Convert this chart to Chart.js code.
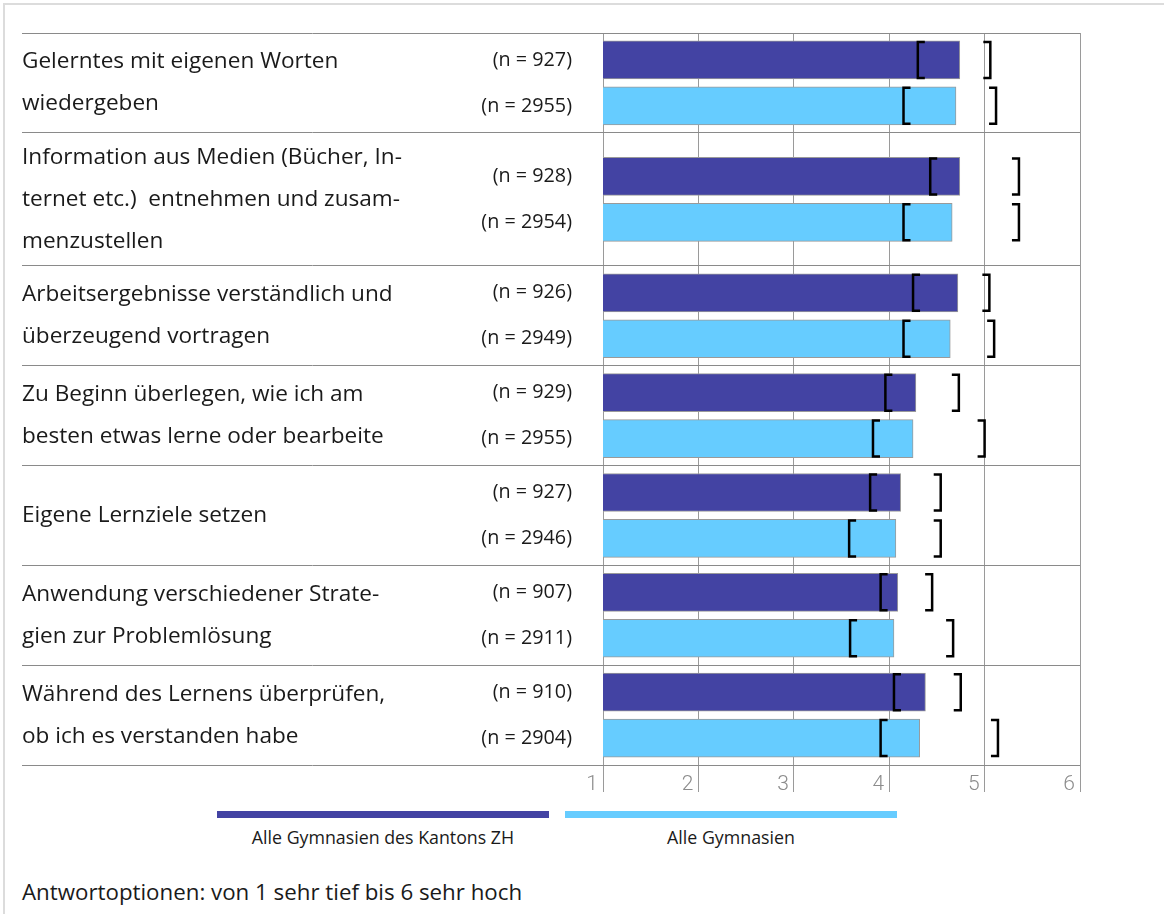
<!DOCTYPE html>
<html>
<head>
<meta charset="utf-8">
<script src="https://cdn.jsdelivr.net/npm/chart.js@4"></script>
<style>
  html, body { margin: 0; padding: 0; background: #fff; overflow: hidden; }
  body { width: 1164px; height: 914px; position: relative; font-family: "Open Sans", sans-serif; color: #1a1a1a; }
  .frame { position: absolute; left: 3px; top: 3px; width: 1300px; height: 1100px;
           border-top: 2px solid #dcdcdc; border-left: 2px solid #dcdcdc; }
  #chart { position: absolute; left: 0; top: 0; }
  .legend-line { position: absolute; top: 811px; height: 7px; width: 332px; }
  .legend-text { position: absolute; top: 825px; width: 332px; text-align: center; font-size: 17.8px; }
  .footer { position: absolute; left: 22px; top: 876px; font-size: 22.3px; }
</style>
</head>
<body>
<div class="frame"></div>
<canvas id="chart" width="1164" height="800"></canvas>
<div id="legend"></div>
<div class="footer">Antwortoptionen: von 1 sehr tief bis 6 sehr hoch</div>

<script>
const categories = [
  ["Gelerntes mit eigenen Worten", "wiedergeben"],
  ["Information aus Medien (Bücher, In-", "ternet etc.)  entnehmen und zusam-", "menzustellen"],
  ["Arbeitsergebnisse verständlich und", "überzeugend vortragen"],
  ["Zu Beginn überlegen, wie ich am", "besten etwas lerne oder bearbeite"],
  ["Eigene Lernziele setzen"],
  ["Anwendung verschiedener Strate-", "gien zur Problemlösung"],
  ["Während des Lernens überprüfen,", "ob ich es verstanden habe"]
];

const seriesNames = ["Alle Gymnasien des Kantons ZH", "Alle Gymnasien"];
const seriesColors = ["#4343a3", "#66ccff"];

const nZH = [927, 928, 926, 929, 927, 907, 910];
const nAll = [2955, 2954, 2949, 2955, 2946, 2911, 2904];

const meanZH = [4.74, 4.74, 4.72, 4.28, 4.12, 4.09, 4.38];
const meanAll = [4.70, 4.66, 4.64, 4.25, 4.07, 4.05, 4.32];

const lowZH = [4.30, 4.43, 4.25, 3.96, 3.80, 3.91, 4.05];
const highZH = [5.06, 5.36, 5.05, 4.73, 4.54, 4.45, 4.75];
const lowAll = [4.15, 4.15, 4.15, 3.83, 3.58, 3.59, 3.91];
const highAll = [5.12, 5.36, 5.10, 5.00, 4.54, 4.67, 5.14];

const xTicks = [1, 2, 3, 4, 5, 6];

// each group gets 3 rows, 4 if the label needs three lines
const bounds = [0];
categories.forEach(lines => bounds.push(bounds[bounds.length - 1] + (lines.length > 2 ? 4 : 3)));
const centers = categories.map((_, i) => (bounds[i] + bounds[i + 1]) / 2);
const barShift = 0.69;

const means = [meanZH, meanAll];
const lows = [lowZH, lowAll];
const highs = [highZH, highAll];
const ns = [nZH, nAll];

const labelPlugin = {
  id: "labels",
  afterDatasetsDraw(chart) {
    const ctx = chart.ctx;
    const y = chart.scales.y;
    const x = chart.scales.x;
    ctx.save();

    // descriptions
    ctx.fillStyle = "#1a1a1a";
    ctx.textBaseline = "middle";
    ctx.font = "22.6px 'Open Sans'";
    ctx.textAlign = "left";
    categories.forEach((lines, i) => {
      const cy = y.getPixelForValue(centers[i]);
      lines.forEach((t, j) => {
        ctx.fillText(t, 22, cy + (j - (lines.length - 1) / 2) * 42);
      });
    });

    // n labels + brackets
    ctx.textAlign = "right";
    ctx.font = "19.8px 'Open Sans'";
    [0, 1].forEach(d => {
      const meta = chart.getDatasetMeta(d);
      meta.data.forEach((bar, i) => {
        ctx.fillStyle = "#1a1a1a";
        ctx.fillText("(n = " + ns[d][i] + ")", 572, bar.y);

        const top = bar.y - bar.height / 2 + 1;
        const bot = bar.y + bar.height / 2 - 1;
        const xl = x.getPixelForValue(lows[d][i]);
        const xh = x.getPixelForValue(highs[d][i]);
        ctx.strokeStyle = "#000";
        ctx.lineWidth = 2.5;
        ctx.lineJoin = "miter";
        ctx.beginPath();
        ctx.moveTo(xl + 7, top);
        ctx.lineTo(xl, top);
        ctx.lineTo(xl, bot);
        ctx.lineTo(xl + 7, bot);
        ctx.moveTo(xh - 7, top);
        ctx.lineTo(xh, top);
        ctx.lineTo(xh, bot);
        ctx.lineTo(xh - 7, bot);
        ctx.stroke();
      });
    });
    ctx.restore();
  }
};

new Chart(document.getElementById("chart"), {
  type: "bar",
  data: {
    datasets: [0, 1].map(d => ({
      label: seriesNames[d],
      data: means[d].map((v, i) => ({ x: v, y: centers[i] + (d === 0 ? -barShift : barShift) })),
      backgroundColor: seriesColors[d],
      borderColor: "#9a9a9a",
      borderWidth: 1,
      borderSkipped: false,
      barThickness: 38,
      maxBarThickness: 38,
      grouped: false
    }))
  },
  options: {
    indexAxis: "y",
    responsive: false,
    animation: false,
    layout: { padding: { left: 22, top: 33, right: 84, bottom: 0 } },
    plugins: {
      legend: { display: false },
      tooltip: { enabled: false }
    },
    scales: {
      x: {
        type: "linear",
        min: 1,
        max: 6,
        afterBuildTicks: s => { s.ticks = xTicks.map(v => ({ value: v })); },
        afterFit: s => { s.height = 35; },
        border: { display: false },
        grid: { color: "#9a9a9a", lineWidth: 1, tickLength: 27 },
        ticks: {
          color: "#8c8c8c",
          font: { family: "Roboto", size: 21, weight: "300" },
          align: "end",
          labelOffset: -5,
          padding: -20
        }
      },
      y: {
        type: "linear",
        reverse: true,
        offset: false,
        min: 0,
        max: bounds[bounds.length - 1],
        afterBuildTicks: s => { s.ticks = bounds.map(v => ({ value: v })); },
        afterFit: s => { s.width = 581; },
        border: { display: false },
        grid: { color: "#8a8a8a", lineWidth: 1, tickLength: 581, offset: false },
        ticks: { display: false }
      }
    }
  },
  plugins: [labelPlugin]
});

// legend below the axis
const legend = document.getElementById("legend");
const legendLeft = [217, 565];
seriesNames.forEach((name, d) => {
  const line = document.createElement("div");
  line.className = "legend-line";
  line.style.left = legendLeft[d] + "px";
  line.style.background = seriesColors[d];
  legend.appendChild(line);
  const txt = document.createElement("div");
  txt.className = "legend-text";
  txt.style.left = legendLeft[d] + "px";
  txt.textContent = name;
  legend.appendChild(txt);
});
</script>
</body>
</html>
